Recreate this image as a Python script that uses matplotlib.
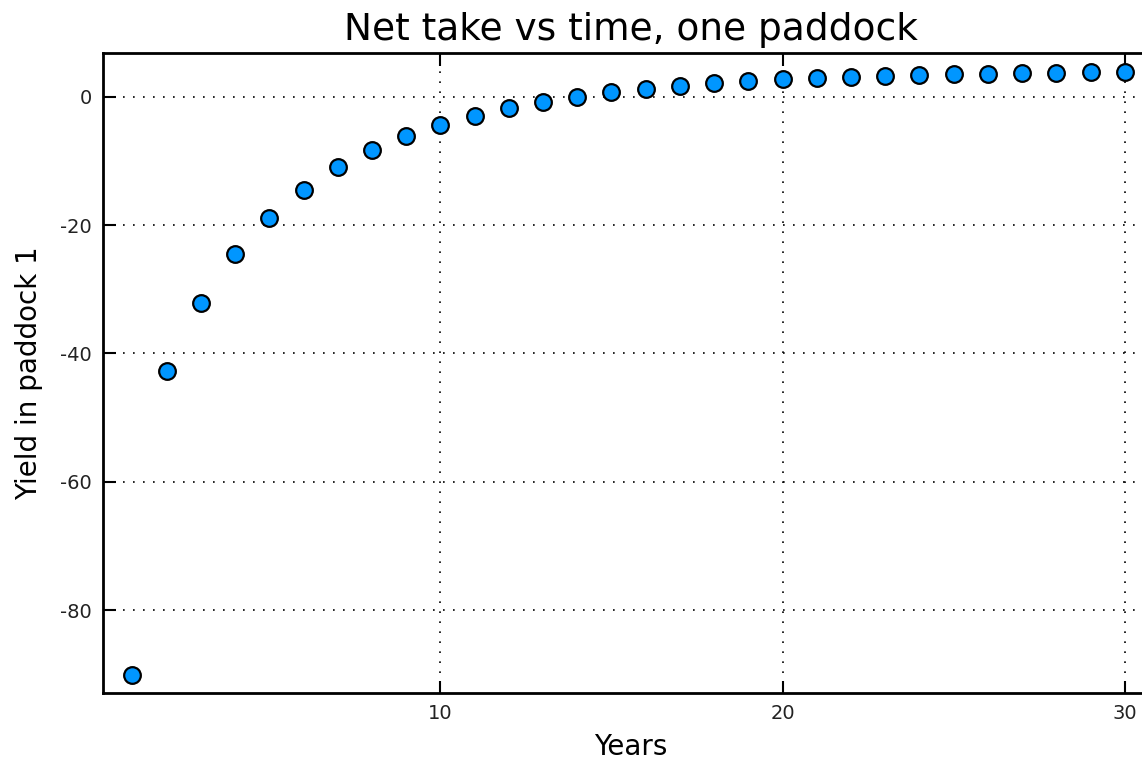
import numpy as np
import matplotlib
matplotlib.use("Agg")
import matplotlib.pyplot as plt

# data
years = list(range(1, 31))
yield_p1 = [
    -90.1, -42.7, -32.2, -24.5, -18.85, -14.5, -10.9, -8.3, -6.2, -4.4,
    -3.0, -1.8, -0.8, 0.0, 0.7, 1.2, 1.7, 2.2, 2.4, 2.7,
    2.95, 3.1, 3.25, 3.4, 3.5, 3.6, 3.7, 3.75, 3.8, 3.9,
]
xticks = [10, 20, 30]
yticks = [0, -20, -40, -60, -80]

W, H = 1142, 762
fig = plt.figure(figsize=(W / 100, H / 100), dpi=100)

# axes runs past the right edge of the figure, as in the reference
left, right, top, bottom = 103, 1159, 53, 693
ax = fig.add_axes([left / W, 1 - bottom / H, (right - left) / W, (bottom - top) / H])

ax.plot(years, yield_p1, "o", color="#0096ff", markersize=12,
        markeredgecolor="black", markeredgewidth=1.6, linestyle="none", zorder=3)

ax.set_xlim(0.14, 31)
ax.set_ylim(-92.9, 6.8)
ax.set_xticks(xticks)
ax.set_yticks(yticks)
ax.set_yticklabels([str(t) for t in yticks])

ax.grid(True, color="black", linestyle=(0, (1, 5)), linewidth=1.2)
ax.tick_params(direction="in", length=9, width=1.5, labelsize=14,
               labelcolor="#222222", top=True, right=True, pad=8)
for s in ax.spines.values():
    s.set_linewidth(2)

ax.set_title("Net take vs time, one paddock", fontsize=27, pad=9)
ax.set_xlabel("Years", fontsize=20, labelpad=7)
ax.set_ylabel("Yield in paddock 1", fontsize=20, labelpad=12)

fig.savefig("out.png", dpi=100)
